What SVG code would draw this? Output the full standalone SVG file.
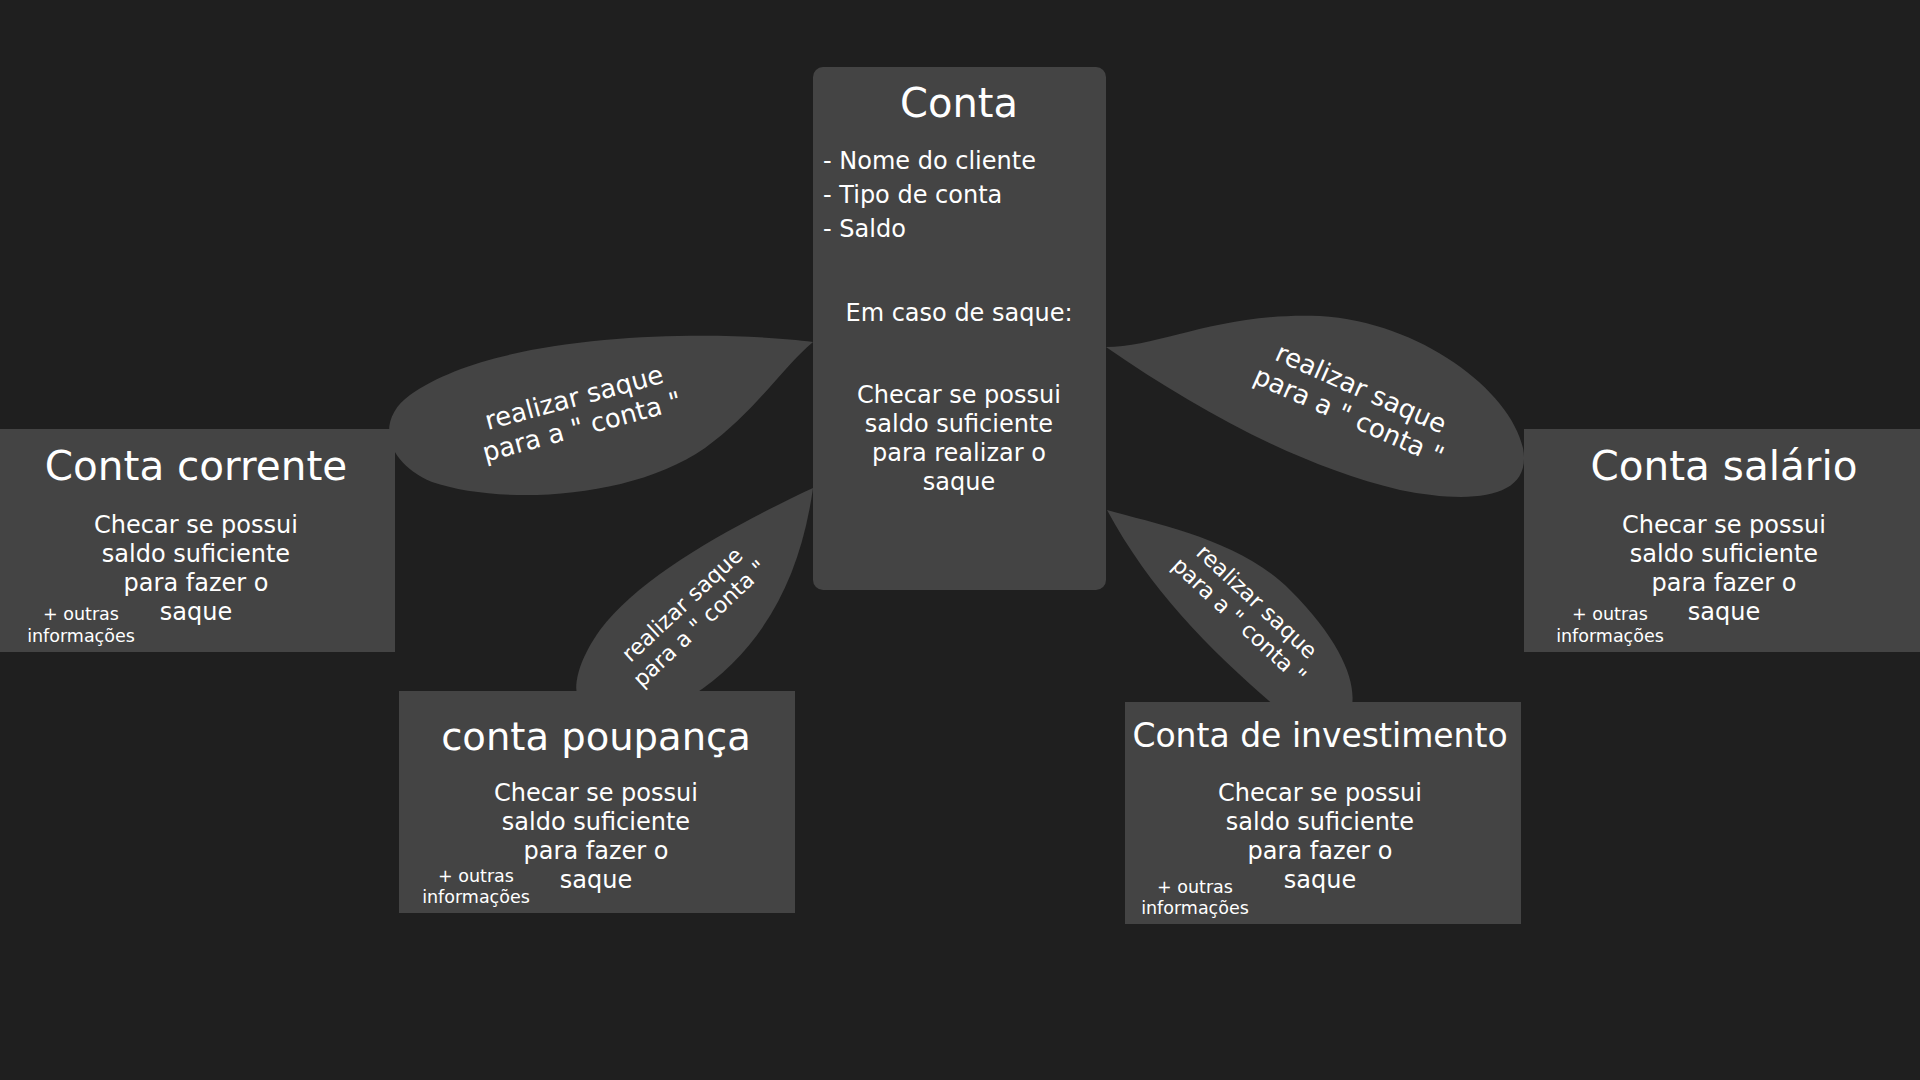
<svg xmlns="http://www.w3.org/2000/svg" width="1920" height="1080" viewBox="0 0 1920 1080">
<style>
text{font-family:"DejaVu Sans","Verdana",sans-serif;fill:#ffffff}
.node{fill:#444444}
.leaf{fill:#444444}
.title{font-size:40px;text-anchor:middle}
.body{font-size:24px;text-anchor:middle}
.item{font-size:24px}
.small{font-size:17.5px;text-anchor:middle}
.lbl{font-size:26px;text-anchor:middle}
.lbl2{font-size:22px;text-anchor:middle}
</style>
<rect width="1920" height="1080" fill="#1f1f1f"/>
<g id="connectors">
<path class="leaf" d="M 813 342 C 720 330, 500 330, 410 395 C 375 420, 385 462, 432 482 C 500 505, 630 500, 705 448 C 755 412, 782 368, 813 342 Z"/>
<path class="leaf" d="M 1106 347 C 1160 347, 1220 312, 1320 316 C 1420 322, 1510 390, 1523 448 C 1533 500, 1470 504, 1400 490 C 1300 466, 1200 412, 1106 347 Z"/>
<path class="leaf" d="M 813 488 C 740 522, 640 575, 600 630 C 575 665, 574 690, 578 696 L 692 696 C 762 650, 800 580, 813 488 Z"/>
<path class="leaf" d="M 1107 510 C 1160 525, 1240 540, 1290 590 C 1340 640, 1356 680, 1352 706 L 1275 706 C 1210 650, 1150 590, 1107 510 Z"/>
<g transform="translate(578,412) rotate(-15)">
<text class="lbl" x="0" y="-6">realizar saque</text>
<text class="lbl" x="0" y="24">para a " conta "</text>
</g>
<g transform="translate(1355,402) rotate(24)">
<text class="lbl" x="0" y="-6">realizar saque</text>
<text class="lbl" x="0" y="24">para a " conta "</text>
</g>
<g transform="translate(690,613) rotate(-43)">
<text class="lbl2" x="0" y="-4">realizar saque</text>
<text class="lbl2" x="0" y="22">para a " conta "</text>
</g>
<g transform="translate(1249,610) rotate(43)">
<text class="lbl2" x="0" y="-4">realizar saque</text>
<text class="lbl2" x="0" y="22">para a " conta "</text>
</g>
</g>
<g id="conta">
<rect class="node" x="813" y="67" width="293" height="523" rx="10"/>
<text class="title" x="959" y="117">Conta</text>
<text class="item" x="823" y="169">- Nome do cliente</text>
<text class="item" x="823" y="203">- Tipo de conta</text>
<text class="item" x="823" y="237">- Saldo</text>
<text class="body" x="959" y="321">Em caso de saque:</text>
<text class="body" x="959" y="403">Checar se possui</text>
<text class="body" x="959" y="432">saldo suficiente</text>
<text class="body" x="959" y="461">para realizar o</text>
<text class="body" x="959" y="490">saque</text>
</g>
<g id="conta-corrente">
<rect class="node" x="0" y="429" width="395" height="223"/>
<text class="title" x="196" y="480" style="font-size:40.5px">Conta corrente</text>
<text class="body" x="196" y="533">Checar se possui</text>
<text class="body" x="196" y="562">saldo suficiente</text>
<text class="body" x="196" y="591">para fazer o</text>
<text class="body" x="196" y="620">saque</text>
<text class="small" x="81" y="620">+ outras</text>
<text class="small" x="81" y="642">informações</text>
</g>
<g id="conta-salario">
<rect class="node" x="1524" y="429" width="396" height="223"/>
<text class="title" x="1724" y="480" style="font-size:40.5px">Conta salário</text>
<text class="body" x="1724" y="533">Checar se possui</text>
<text class="body" x="1724" y="562">saldo suficiente</text>
<text class="body" x="1724" y="591">para fazer o</text>
<text class="body" x="1724" y="620">saque</text>
<text class="small" x="1610" y="620">+ outras</text>
<text class="small" x="1610" y="642">informações</text>
</g>
<g id="conta-poupanca">
<rect class="node" x="399" y="691" width="396" height="222"/>
<text class="title" x="596" y="750" style="font-size:38.5px">conta poupança</text>
<text class="body" x="596" y="801">Checar se possui</text>
<text class="body" x="596" y="830">saldo suficiente</text>
<text class="body" x="596" y="859">para fazer o</text>
<text class="body" x="596" y="888">saque</text>
<text class="small" x="476" y="882">+ outras</text>
<text class="small" x="476" y="903">informações</text>
</g>
<g id="conta-investimento">
<rect class="node" x="1125" y="702" width="396" height="222"/>
<text class="title" x="1320" y="747" style="font-size:33px">Conta de investimento</text>
<text class="body" x="1320" y="801">Checar se possui</text>
<text class="body" x="1320" y="830">saldo suficiente</text>
<text class="body" x="1320" y="859">para fazer o</text>
<text class="body" x="1320" y="888">saque</text>
<text class="small" x="1195" y="893">+ outras</text>
<text class="small" x="1195" y="914">informações</text>
</g>
</svg>
